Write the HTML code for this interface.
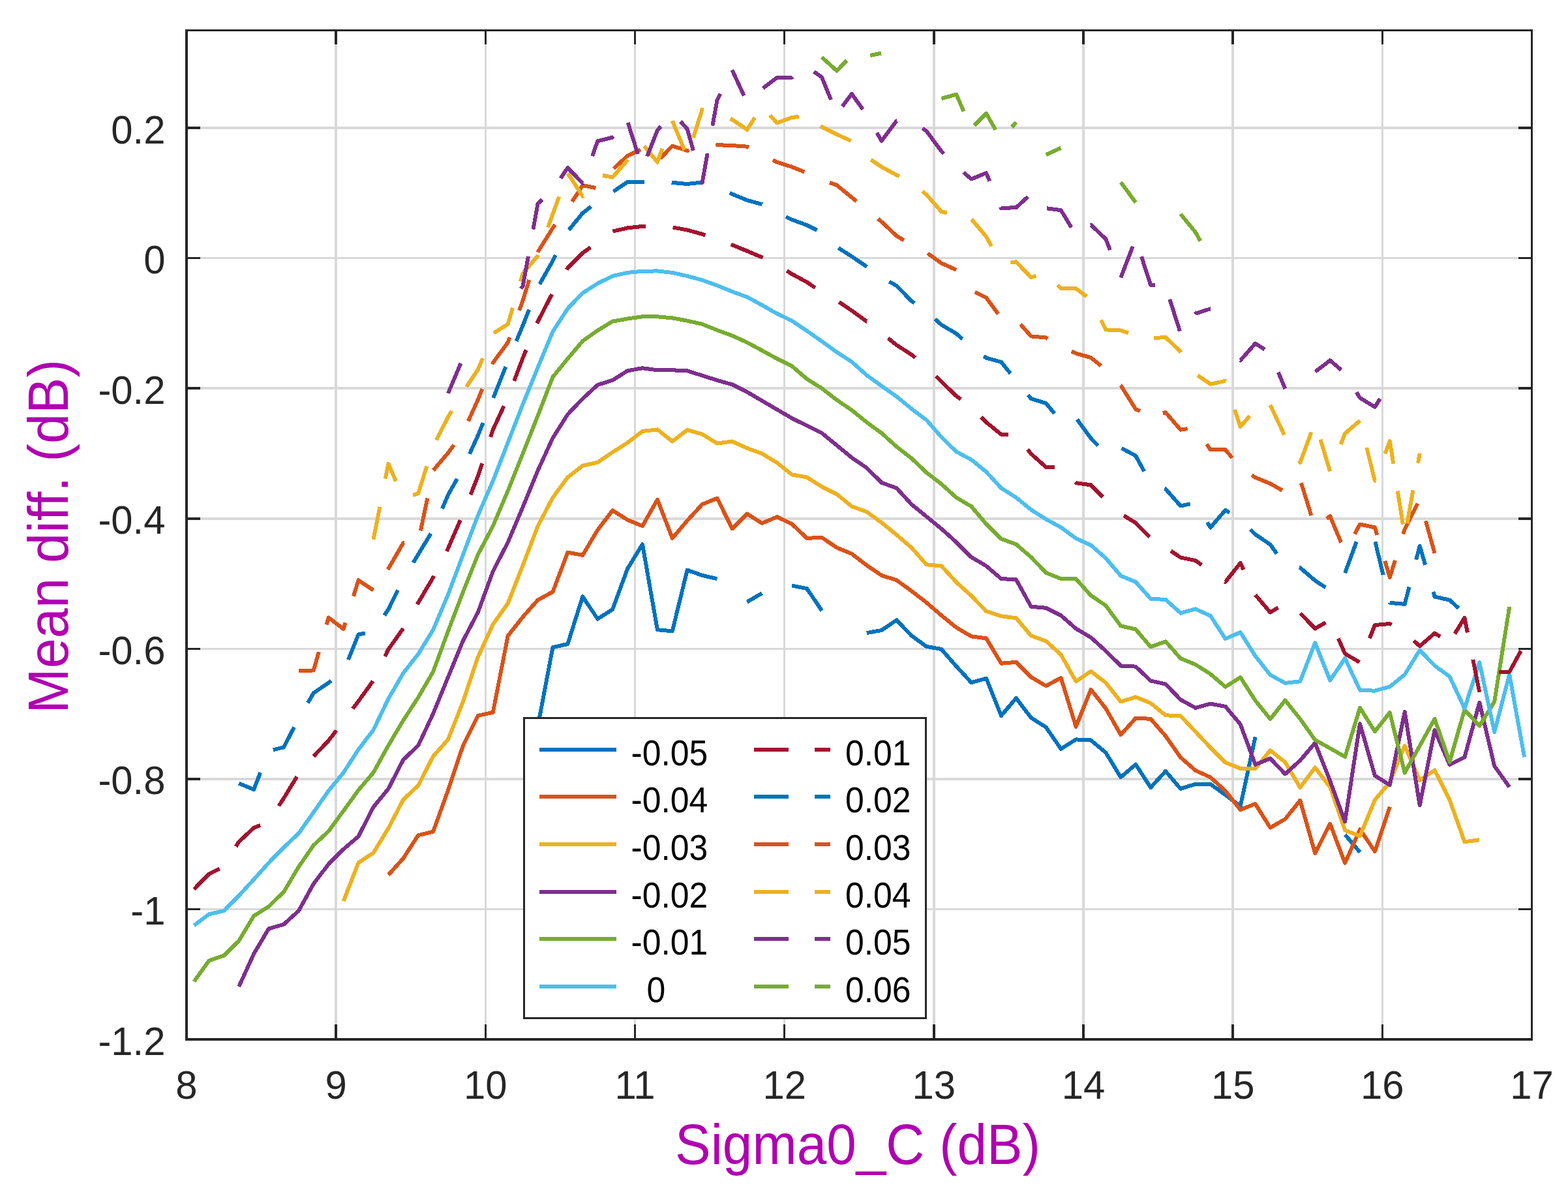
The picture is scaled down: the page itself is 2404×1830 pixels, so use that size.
<!DOCTYPE html><html><head><meta charset="utf-8"><style>html,body{margin:0;padding:0;background:#fff;}svg{display:block;}text{font-family:"Liberation Sans",Arial,Helvetica,sans-serif;}</style></head><body>
<svg width="2404" height="1830" viewBox="0 0 2404 1830">
<rect x="0" y="0" width="2404" height="1830" fill="#fff"/>
<g fill="#d9d9d9"><rect x="513" y="48" width="4" height="1543"/><rect x="743" y="48" width="3" height="1543"/><rect x="972" y="48" width="3" height="1543"/><rect x="1201" y="48" width="3" height="1543"/><rect x="1430" y="48" width="4" height="1543"/><rect x="1659" y="48" width="4" height="1543"/><rect x="1888" y="48" width="4" height="1543"/><rect x="2118" y="48" width="3" height="1543"/><rect x="288" y="1392" width="2059" height="3"/><rect x="288" y="1192" width="2059" height="4"/><rect x="288" y="993" width="2059" height="3"/><rect x="288" y="793" width="2059" height="4"/><rect x="288" y="593" width="2059" height="4"/><rect x="288" y="394" width="2059" height="3"/><rect x="288" y="194" width="2059" height="4"/></g>
<g fill="none" stroke-width="6" stroke-linejoin="round" stroke-linecap="butt" shape-rendering="crispEdges">
<path d="M824.6 1113.1L847.5 992.2L870.4 987.0L893.3 914.3L916.2 948.6L939.1 934.1L962.1 871.6L985.0 834.2L1007.9 965.2L1030.8 967.3L1053.7 873.6L1076.6 881.9L1099.6 887.1" stroke="#0072bd"/>
<path d="M1145.4 922.6L1168.3 909.2" stroke="#0072bd"/>
<path d="M1214.1 897.5L1237.1 902.1L1260.0 935.9" stroke="#0072bd"/>
<path d="M1328.7 970.1L1351.6 966.0L1374.6 950.4L1397.5 974.3L1420.4 990.9L1443.3 995.0L1466.2 1021.2L1489.1 1046.1L1512.1 1039.9L1535.0 1097.0L1557.9 1070.0L1580.8 1100.1L1603.7 1114.6L1626.6 1147.8L1649.6 1133.4L1672.5 1134.5L1695.4 1153.6L1718.3 1191.3L1741.2 1171.6L1764.1 1206.9L1787.1 1182.0L1810.0 1208.9L1832.9 1201.7L1855.8 1201.7L1878.7 1218.3L1901.7 1235.6L1924.6 1129.5" stroke="#0072bd"/>
<path d="M2062.1 1279.2L2085.0 1306.2" stroke="#0072bd"/>
<path d="M595.4 1341.0L618.3 1315.5L641.2 1280.2L664.1 1274.6L687.0 1211.1L710.0 1142.6L732.9 1096.9L755.8 1091.8L778.7 974.5L801.6 945.5L824.6 919.5L847.5 907.1L870.4 846.7L893.3 850.8L916.2 812.4L939.1 782.3L962.1 796.8L985.0 806.2L1007.9 765.7L1030.8 824.9L1053.7 797.9L1076.6 773.0L1099.6 763.6L1122.5 810.3L1145.4 787.5L1168.3 802.0L1191.2 792.2L1214.1 803.1L1237.1 824.9L1260.0 823.8L1282.9 839.4L1305.8 848.7L1328.7 866.4L1351.6 881.9L1374.6 889.2L1397.5 905.8L1420.4 923.5L1443.3 943.2L1466.2 961.8L1489.1 975.3L1512.1 978.4L1535.0 1016.8L1557.9 1014.8L1580.8 1037.8L1603.7 1051.3L1626.6 1038.9L1649.6 1113.7L1672.5 1056.8L1695.4 1085.9L1718.3 1126.2L1741.2 1100.7L1764.1 1101.8L1787.1 1128.2L1810.0 1160.9L1832.9 1180.9L1855.8 1191.3L1878.7 1212.1L1901.7 1241.1L1924.6 1232.0L1947.5 1268.6L1970.4 1255.3L1993.3 1226.8L2016.2 1307.7L2039.2 1262.6L2062.1 1322.8L2085.0 1271.1L2107.9 1304.9L2130.8 1236.4" stroke="#d95319"/>
<path d="M526.6 1381.1L549.5 1322.3L572.5 1307.2L595.4 1269.4L618.3 1225.6L641.2 1203.8L664.1 1159.2L687.0 1133.3L710.0 1075.2L732.9 1006.7L755.8 956.9L778.7 924.7L801.6 866.4L824.6 806.2L847.5 762.6L870.4 731.5L893.3 713.8L916.2 708.7L939.1 693.1L962.1 678.6L985.0 660.9L1007.9 658.4L1030.8 676.5L1053.7 658.9L1076.6 665.5L1099.6 679.6L1122.5 676.5L1145.4 686.9L1168.3 695.2L1191.2 709.2L1214.1 727.4L1237.1 731.5L1260.0 746.0L1282.9 757.4L1305.8 776.1L1328.7 784.4L1351.6 801.0L1374.6 819.7L1397.5 839.4L1420.4 865.3L1443.3 867.4L1466.2 892.3L1489.1 913.1L1512.1 936.9L1535.0 944.2L1557.9 947.3L1580.8 974.3L1603.7 982.6L1626.6 1003.3L1649.6 1044.4L1672.5 1028.8L1695.4 1046.5L1718.3 1075.5L1741.2 1068.3L1764.1 1077.6L1787.1 1096.3L1810.0 1097.3L1832.9 1121.5L1855.8 1145.9L1878.7 1168.7L1901.7 1177.8L1924.6 1178.0L1947.5 1150.1L1970.4 1168.2L1993.3 1207.1L2016.2 1176.5L2039.2 1206.3L2062.1 1272.5L2085.0 1281.3L2107.9 1226.0L2130.8 1199.0L2153.7 1143.0L2176.7 1195.9L2199.6 1180.4L2222.5 1226.0L2245.4 1290.3L2268.3 1287.2" stroke="#edb120"/>
<path d="M366.2 1512.2L389.1 1462.0L412.0 1423.4L435.0 1416.8L457.9 1396.0L480.8 1354.5L503.7 1324.4L526.6 1301.6L549.5 1281.9L572.5 1236.9L595.4 1209.0L618.3 1164.4L641.2 1142.6L664.1 1093.8L687.0 1037.8L710.0 981.8L732.9 938.2L755.8 875.7L778.7 831.1L801.6 777.1L824.6 721.1L847.5 671.3L870.4 635.0L893.3 611.1L916.2 590.0L939.1 582.8L962.1 568.3L985.0 564.2L1007.9 567.3L1030.8 567.3L1053.7 568.3L1076.6 575.6L1099.6 582.9L1122.5 589.3L1145.4 600.8L1168.3 614.2L1191.2 627.6L1214.1 641.0L1237.1 652.4L1260.0 663.8L1282.9 682.5L1305.8 701.4L1328.7 717.0L1351.6 739.8L1374.6 748.1L1397.5 773.0L1420.4 791.7L1443.3 810.4L1466.2 831.1L1489.1 853.9L1512.1 867.4L1535.0 887.1L1557.9 888.2L1580.8 929.7L1603.7 931.8L1626.6 943.2L1649.6 963.5L1672.5 977.0L1695.4 997.7L1718.3 1020.5L1741.2 1021.6L1764.1 1043.4L1787.1 1048.5L1810.0 1072.4L1832.9 1084.9L1855.8 1078.6L1878.7 1082.8L1901.7 1110.1L1924.6 1171.8L1947.5 1162.5L1970.4 1186.3L1993.3 1165.6L2016.2 1138.7L2039.2 1196.7L2062.1 1259.5L2085.0 1109.3L2107.9 1188.7L2130.8 1203.2L2153.7 1091.1L2176.7 1234.3L2199.6 1119.1L2222.5 1172.1L2245.4 1160.6L2268.3 1076.6L2291.2 1174.1L2314.2 1206.3" stroke="#7e2f8e"/>
<path d="M297.5 1504.3L320.4 1472.4L343.3 1464.5L366.2 1442.1L389.1 1403.9L412.0 1389.4L435.0 1367.0L457.9 1328.6L480.8 1295.4L503.7 1274.0L526.6 1242.9L549.5 1211.1L572.5 1184.1L595.4 1142.6L618.3 1104.2L641.2 1068.9L664.1 1029.5L687.0 967.3L710.0 907.1L732.9 849.8L755.8 806.2L778.7 752.2L801.6 695.2L824.6 637.1L847.5 577.8L870.4 549.7L893.3 522.7L916.2 506.5L939.1 492.6L962.1 488.5L985.0 485.3L1007.9 485.3L1030.8 487.4L1053.7 491.6L1076.6 496.8L1099.6 506.1L1122.5 514.4L1145.4 524.8L1168.3 537.2L1191.2 549.7L1214.1 561.1L1237.1 580.8L1260.0 595.3L1282.9 613.0L1305.8 628.5L1328.7 647.2L1351.6 663.8L1374.6 684.6L1397.5 702.5L1420.4 724.2L1443.3 741.9L1466.2 762.6L1489.1 776.1L1512.1 803.1L1535.0 825.9L1557.9 834.2L1580.8 853.9L1603.7 877.8L1626.6 887.1L1649.6 887.3L1672.5 912.6L1695.4 928.2L1718.3 959.3L1741.2 964.5L1764.1 991.5L1787.1 983.2L1810.0 1009.1L1832.9 1018.5L1855.8 1033.0L1878.7 1052.7L1901.7 1038.1L1924.6 1073.7L1947.5 1102.1L1970.4 1073.4L1993.3 1101.8L2016.2 1134.1L2039.2 1146.8L2062.1 1159.9L2085.0 1084.8L2107.9 1121.1L2130.8 1092.1L2153.7 1184.5L2176.7 1143.0L2199.6 1101.7L2222.5 1167.8L2245.4 1087.9L2268.3 1112.5L2291.2 1075.5L2314.2 930.1" stroke="#77ac30"/>
<path d="M297.5 1418.4L320.4 1401.2L343.3 1396.0L366.2 1372.8L389.1 1347.9L412.0 1322.3L435.0 1298.9L457.9 1277.3L480.8 1244.9L503.7 1212.1L526.6 1184.1L549.5 1148.8L572.5 1118.7L595.4 1071.0L618.3 1031.6L641.2 1002.5L664.1 965.2L687.0 911.2L710.0 849.8L732.9 789.6L755.8 737.1L778.7 678.2L801.6 619.6L824.6 563.2L847.5 508.2L870.4 472.9L893.3 449.0L916.2 434.5L939.1 423.1L962.1 417.9L985.0 415.8L1007.9 415.4L1030.8 417.9L1053.7 423.1L1076.6 429.3L1099.6 437.6L1122.5 446.9L1145.4 455.2L1168.3 467.7L1191.2 480.7L1214.1 491.6L1237.1 507.1L1260.0 523.1L1282.9 539.7L1305.8 554.5L1328.7 575.0L1351.6 591.6L1374.6 607.8L1397.5 626.5L1420.4 643.7L1443.3 670.0L1466.2 692.3L1489.1 704.5L1512.1 723.2L1535.0 748.1L1557.9 762.6L1580.8 781.3L1603.7 795.8L1626.6 808.3L1649.6 825.2L1672.5 835.6L1695.4 855.6L1718.3 882.5L1741.2 891.9L1764.1 917.8L1787.1 918.9L1810.0 939.6L1832.9 933.4L1855.8 943.8L1878.7 979.0L1901.7 969.1L1924.6 1005.4L1947.5 1034.4L1970.4 1046.9L1993.3 1044.3L2016.2 985.2L2039.2 1042.7L2062.1 1009.0L2085.0 1057.8L2107.9 1058.7L2130.8 1052.5L2153.7 1033.8L2176.7 996.5L2199.6 1020.3L2222.5 1036.9L2245.4 1085.7L2268.3 1015.2L2291.2 1122.0L2314.2 1033.8L2337.1 1160.4" stroke="#4dbeee"/>
<path d="M297.5 1362.8L320.4 1339.6L336.7 1331.3" stroke="#a2142f"/>
<path d="M361.8 1297.5L366.2 1290.2L389.1 1268.8L399.1 1264.8" stroke="#a2142f"/>
<path d="M427.5 1235.2L435.0 1223.5L455.2 1190.4" stroke="#a2142f"/>
<path d="M480.9 1159.1L503.7 1135.1L515.7 1119.5" stroke="#a2142f"/>
<path d="M540.9 1086.3L549.5 1074.7L571.8 1043.9" stroke="#a2142f"/>
<path d="M590.1 1006.2L595.4 995.3L618.2 963.2" stroke="#a2142f"/>
<path d="M639.7 926.3L641.2 923.7L664.1 885.0L665.3 882.7" stroke="#a2142f"/>
<path d="M684.8 844.8L687.0 840.4L705.8 797.1" stroke="#a2142f"/>
<path d="M721.5 758.2L732.9 729.4L739.1 710.3" stroke="#a2142f"/>
<path d="M752.2 669.8L755.8 658.6L772.6 622.2" stroke="#a2142f"/>
<path d="M788.2 584.0L801.6 548.6L806.7 536.2" stroke="#a2142f"/>
<path d="M823.3 495.8L824.6 492.8L846.1 451.1" stroke="#a2142f"/>
<path d="M868.8 413.3L870.4 410.6L893.3 387.8L905.3 379.1" stroke="#a2142f"/>
<path d="M939.4 354.6L962.1 349.4L985.0 346.9L990.2 346.9" stroke="#a2142f"/>
<path d="M1031.7 348.5L1053.7 352.5L1076.6 358.8L1081.3 360.4" stroke="#a2142f"/>
<path d="M1120.8 374.7L1122.5 375.4L1145.4 384.7L1168.3 394.4L1169.7 395.1" stroke="#a2142f"/>
<path d="M1206.3 415.0L1214.1 420.0L1237.1 432.4L1250.0 441.2" stroke="#a2142f"/>
<path d="M1286.4 462.9L1305.8 476.0L1328.7 492.6L1328.8 492.6" stroke="#a2142f"/>
<path d="M1361.5 518.3L1374.6 528.9L1397.5 543.5L1403.2 548.2" stroke="#a2142f"/>
<path d="M1435.0 576.7L1443.3 585.0L1466.2 607.0L1473.0 612.1" stroke="#a2142f"/>
<path d="M1504.1 639.3L1512.1 647.2L1535.0 665.9L1546.0 665.9" stroke="#a2142f"/>
<path d="M1575.6 688.8L1580.8 695.6L1603.7 715.9L1616.6 716.1" stroke="#a2142f"/>
<path d="M1648.5 739.1L1649.6 740.2L1672.5 743.3L1691.0 761.9" stroke="#a2142f"/>
<path d="M1723.0 790.2L1741.2 801.4L1762.6 823.2" stroke="#a2142f"/>
<path d="M1795.1 844.3L1810.0 854.5L1832.9 859.1L1842.4 866.0" stroke="#a2142f"/>
<path d="M1877.9 891.3L1878.7 891.9L1901.7 862.8L1906.6 873.3" stroke="#a2142f"/>
<path d="M1924.6 911.6L1947.5 938.6L1959.7 931.3" stroke="#a2142f"/>
<path d="M1993.6 939.9L2016.2 963.5L2032.3 954.1" stroke="#a2142f"/>
<path d="M2051.8 978.7L2062.1 1001.9L2084.4 1015.0" stroke="#a2142f"/>
<path d="M2099.8 978.4L2107.9 958.1L2130.8 956.0L2133.5 957.6" stroke="#a2142f"/>
<path d="M2167.5 982.0L2176.7 990.3L2199.6 970.5L2208.1 975.7" stroke="#a2142f"/>
<path d="M2230.5 971.3L2245.4 946.7L2250.0 969.6" stroke="#a2142f"/>
<path d="M2258.3 1010.9L2268.3 1060.8L2268.3 1060.8" stroke="#a2142f"/>
<path d="M2298.4 1029.7L2314.2 1029.7L2331.8 997.6" stroke="#a2142f"/>
<path d="M366.2 1200.7L389.1 1210.0L399.2 1184.1" stroke="#0072bd"/>
<path d="M418.8 1149.3L435.0 1145.3L450.9 1114.6" stroke="#0072bd"/>
<path d="M471.9 1077.3L480.8 1062.1L503.7 1046.5L507.9 1043.4" stroke="#0072bd"/>
<path d="M534.0 1011.2L549.5 972.4L560.0 970.6" stroke="#0072bd"/>
<path d="M589.2 943.2L595.4 934.1L610.0 904.6" stroke="#0072bd"/>
<path d="M633.7 862.3L641.2 849.8L660.6 817.6" stroke="#0072bd"/>
<path d="M678.0 779.6L687.0 758.5L700.8 734.0" stroke="#0072bd"/>
<path d="M719.9 695.7L732.9 667.2L740.7 648.1" stroke="#0072bd"/>
<path d="M756.3 609.9L775.4 562.1" stroke="#0072bd"/>
<path d="M791.6 522.9L801.6 498.8L811.1 474.7" stroke="#0072bd"/>
<path d="M827.3 435.5L847.5 399.8L852.0 390.8" stroke="#0072bd"/>
<path d="M872.0 352.6L893.3 326.6L906.2 316.6" stroke="#0072bd"/>
<path d="M940.5 293.5L962.1 278.9L985.0 278.9L988.1 278.9" stroke="#0072bd"/>
<path d="M1029.6 279.8L1030.8 279.9L1053.7 282.0L1076.6 279.5L1078.1 279.9" stroke="#0072bd"/>
<path d="M1118.7 295.7L1122.5 297.5L1145.4 306.9L1168.3 313.1L1168.6 313.3" stroke="#0072bd"/>
<path d="M1204.9 332.1L1214.1 336.7L1237.1 345.0L1252.7 352.8" stroke="#0072bd"/>
<path d="M1285.3 380.0L1305.8 393.0L1328.7 408.6L1329.0 408.8" stroke="#0072bd"/>
<path d="M1363.3 431.7L1374.6 438.0L1397.5 461.5L1402.1 464.6" stroke="#0072bd"/>
<path d="M1433.6 489.0L1443.3 497.8L1466.2 511.3L1475.5 519.6" stroke="#0072bd"/>
<path d="M1508.2 545.8L1512.1 548.6L1535.0 554.9L1549.2 572.5" stroke="#0072bd"/>
<path d="M1576.3 605.5L1580.8 610.9L1603.7 618.2L1616.6 633.7" stroke="#0072bd"/>
<path d="M1651.3 642.8L1672.5 671.7L1683.7 683.1" stroke="#0072bd"/>
<path d="M1719.6 686.9L1741.2 698.6L1754.2 722.5" stroke="#0072bd"/>
<path d="M1785.3 748.8L1787.1 749.5L1810.0 775.4L1824.8 772.3" stroke="#0072bd"/>
<path d="M1851.0 800.6L1855.8 808.6L1878.7 781.7L1885.0 785.8" stroke="#0072bd"/>
<path d="M1917.1 811.8L1924.6 819.0L1947.5 834.6L1957.5 848.6" stroke="#0072bd"/>
<path d="M1991.8 869.8L1993.3 870.1L2016.2 889.8L2032.3 900.3" stroke="#0072bd"/>
<path d="M2062.1 878.3L2079.7 830.3" stroke="#0072bd"/>
<path d="M2108.4 830.1L2120.6 881.2" stroke="#0072bd"/>
<path d="M2130.7 923.5L2130.8 923.9L2153.7 925.9L2160.5 899.7" stroke="#0072bd"/>
<path d="M2171.2 857.8L2176.7 836.7L2185.2 865.8" stroke="#0072bd"/>
<path d="M2197.4 907.1L2199.6 914.5L2222.5 919.7L2236.2 932.1" stroke="#0072bd"/>
<path d="M458.2 1028.5L480.8 1027.4L488.8 999.3" stroke="#d95319"/>
<path d="M500.6 957.4L503.7 946.5L526.6 964.1L529.6 954.4" stroke="#d95319"/>
<path d="M542.0 913.9L549.5 889.2L572.4 904.7" stroke="#d95319"/>
<path d="M594.5 872.8L595.4 871.6L618.3 832.1L620.1 832.0" stroke="#d95319"/>
<path d="M644.9 813.4L655.3 763.6" stroke="#d95319"/>
<path d="M664.4 720.8L687.0 694.1L696.0 682.0" stroke="#d95319"/>
<path d="M717.9 645.5L732.9 612.2L739.4 596.2" stroke="#d95319"/>
<path d="M754.8 558.4L755.8 555.9L778.7 524.8L781.5 517.1" stroke="#d95319"/>
<path d="M796.1 476.0L801.6 460.4L811.4 428.9" stroke="#d95319"/>
<path d="M824.3 386.8L824.6 386.1L847.5 349.4L851.3 344.4" stroke="#d95319"/>
<path d="M877.1 309.0L893.3 284.1L913.4 288.1" stroke="#d95319"/>
<path d="M940.8 258.4L962.1 238.8L982.1 229.2" stroke="#d95319"/>
<path d="M1012.4 242.8L1030.8 223.6L1053.7 230.9L1056.5 230.4" stroke="#d95319"/>
<path d="M1097.3 222.6L1099.6 222.2L1122.5 223.0L1145.4 224.7L1148.1 226.2" stroke="#d95319"/>
<path d="M1184.8 245.3L1191.2 248.5L1214.1 255.8L1233.3 263.6" stroke="#d95319"/>
<path d="M1272.0 279.9L1282.9 283.8L1305.8 302.5L1313.2 308.5" stroke="#d95319"/>
<path d="M1346.1 335.3L1351.6 339.9L1374.6 361.6L1385.9 368.4" stroke="#d95319"/>
<path d="M1422.3 388.2L1443.3 403.4L1466.2 413.7" stroke="#d95319"/>
<path d="M1494.8 447.7L1512.1 456.3L1530.4 481.2" stroke="#d95319"/>
<path d="M1564.5 497.0L1580.8 515.4L1603.7 517.5L1606.3 519.1" stroke="#d95319"/>
<path d="M1642.8 538.5L1649.6 541.6L1672.5 548.2L1687.9 560.6" stroke="#d95319"/>
<path d="M1718.1 590.6L1718.3 590.7L1741.2 627.1L1748.1 630.2" stroke="#d95319"/>
<path d="M1782.8 633.2L1787.1 632.2L1810.0 658.6L1820.7 657.1" stroke="#d95319"/>
<path d="M1850.0 680.8L1855.8 689.3L1878.7 689.3L1889.2 701.8" stroke="#d95319"/>
<path d="M1919.2 728.3L1924.6 731.8L1947.5 741.2L1965.9 751.6" stroke="#d95319"/>
<path d="M1994.9 740.2L2010.4 790.0" stroke="#d95319"/>
<path d="M2034.0 794.9L2039.2 791.0L2056.1 831.5" stroke="#d95319"/>
<path d="M2076.9 818.5L2085.0 803.5L2107.9 808.4L2111.3 819.9" stroke="#d95319"/>
<path d="M2123.3 859.8L2130.8 885.0L2138.9 858.9" stroke="#d95319"/>
<path d="M2151.3 818.7L2153.7 811.0L2173.3 771.7" stroke="#d95319"/>
<path d="M2185.8 798.3L2199.6 848.0" stroke="#d95319"/>
<path d="M572.5 826.9L582.3 777.0" stroke="#edb120"/>
<path d="M590.8 733.7L595.4 710.7L607.0 737.5" stroke="#edb120"/>
<path d="M633.0 759.0L641.2 756.4L654.4 714.6" stroke="#edb120"/>
<path d="M668.9 674.4L687.0 639.1L692.6 629.8" stroke="#edb120"/>
<path d="M715.2 592.9L732.9 566.3L740.0 549.2" stroke="#edb120"/>
<path d="M756.9 510.5L778.7 496.8L786.0 471.9" stroke="#edb120"/>
<path d="M797.9 431.6L801.6 418.9L824.6 392.0L825.0 390.8" stroke="#edb120"/>
<path d="M840.1 348.5L847.5 328.0L857.1 301.6" stroke="#edb120"/>
<path d="M870.5 265.6L893.3 300.7L893.6 300.2" stroke="#edb120"/>
<path d="M923.9 268.8L939.1 271.6L962.1 245.4L962.6 244.8" stroke="#edb120"/>
<path d="M987.8 223.9L1007.9 248.5L1015.5 227.6" stroke="#edb120"/>
<path d="M1030.8 185.3L1030.8 185.3L1049.4 229.9" stroke="#edb120"/>
<path d="M1062.9 211.2L1076.6 167.6L1078.8 168.1" stroke="#edb120"/>
<path d="M1119.6 181.9L1122.5 183.2L1145.4 198.7L1157.3 180.1" stroke="#edb120"/>
<path d="M1180.5 176.6L1191.2 188.4L1214.1 180.1L1224.8 178.6" stroke="#edb120"/>
<path d="M1258.0 193.1L1260.0 194.6L1282.9 206.0L1304.5 215.8" stroke="#edb120"/>
<path d="M1335.2 244.7L1351.6 255.8L1374.6 268.3L1379.0 270.3" stroke="#edb120"/>
<path d="M1414.3 293.1L1420.4 298.4L1443.3 324.3L1451.9 326.2" stroke="#edb120"/>
<path d="M1489.5 336.1L1512.1 362.7L1520.1 377.4" stroke="#edb120"/>
<path d="M1549.3 402.6L1557.9 401.3L1580.8 425.2L1588.5 422.8" stroke="#edb120"/>
<path d="M1621.5 436.7L1626.6 442.2L1649.6 442.1L1666.1 454.6" stroke="#edb120"/>
<path d="M1687.9 490.4L1695.4 505.4L1718.3 506.5L1730.1 510.3" stroke="#edb120"/>
<path d="M1768.8 517.9L1787.1 517.1L1810.0 538.9L1810.9 540.2" stroke="#edb120"/>
<path d="M1836.2 575.3L1855.8 588.7L1878.7 583.9L1878.8 584.1" stroke="#edb120"/>
<path d="M1893.1 627.8L1901.7 654.0L1916.1 637.4" stroke="#edb120"/>
<path d="M1947.5 620.8L1969.0 666.5" stroke="#edb120"/>
<path d="M1991.6 706.1L1993.3 709.0L2010.5 662.3" stroke="#edb120"/>
<path d="M2024.4 673.6L2039.2 722.5L2039.2 722.5" stroke="#edb120"/>
<path d="M2055.5 681.1L2062.1 664.4L2085.0 644.6" stroke="#edb120"/>
<path d="M2095.3 686.0L2107.9 736.8L2108.0 736.6" stroke="#edb120"/>
<path d="M2123.6 695.2L2130.8 676.0L2136.3 710.8" stroke="#edb120"/>
<path d="M2142.8 752.6L2150.8 803.5" stroke="#edb120"/>
<path d="M2157.3 802.4L2166.5 751.2" stroke="#edb120"/>
<path d="M2174.0 709.7L2176.7 694.9" stroke="#edb120"/>
<path d="M687.0 602.8L706.4 557.0" stroke="#7e2f8e"/>
<path d="M798.5 442.4L801.6 438.6L809.9 392.9" stroke="#7e2f8e"/>
<path d="M817.4 351.6L824.6 312.1L831.4 305.9" stroke="#7e2f8e"/>
<path d="M859.5 273.4L870.4 257.1L893.3 280.9L893.5 280.5" stroke="#7e2f8e"/>
<path d="M908.1 239.2L916.2 216.4L939.1 210.6L940.4 209.2" stroke="#7e2f8e"/>
<path d="M962.6 187.9L978.0 236.0" stroke="#7e2f8e"/>
<path d="M992.2 239.6L1007.9 199.8L1013.1 193.6" stroke="#7e2f8e"/>
<path d="M1043.3 186.2L1053.7 197.7L1063.0 230.9" stroke="#7e2f8e"/>
<path d="M1076.6 279.8L1076.6 279.9L1084.7 235.1" stroke="#7e2f8e"/>
<path d="M1092.4 192.8L1099.6 153.1L1104.3 143.7" stroke="#7e2f8e"/>
<path d="M1122.5 107.4L1140.7 146.8" stroke="#7e2f8e"/>
<path d="M1169.7 135.4L1191.2 119.1L1214.1 118.9L1215.4 117.9" stroke="#7e2f8e"/>
<path d="M1247.9 109.9L1260.0 118.4L1273.9 152.8" stroke="#7e2f8e"/>
<path d="M1291.5 163.2L1305.8 143.8L1322.9 167.6" stroke="#7e2f8e"/>
<path d="M1344.5 203.5L1351.6 216.0L1374.6 185.3L1374.8 185.3" stroke="#7e2f8e"/>
<path d="M1414.3 196.7L1420.4 200.8L1443.3 231.9L1447.0 235.6" stroke="#7e2f8e"/>
<path d="M1477.4 264.3L1489.1 274.5L1512.1 265.2L1517.3 277.5" stroke="#7e2f8e"/>
<path d="M1534.2 317.3L1535.0 319.1L1557.9 318.1L1576.1 301.4" stroke="#7e2f8e"/>
<path d="M1605.1 319.3L1626.6 322.2L1642.6 348.6" stroke="#7e2f8e"/>
<path d="M1672.1 344.8L1672.5 344.6L1695.4 366.4L1701.9 383.2" stroke="#7e2f8e"/>
<path d="M1718.3 425.5L1736.7 377.8" stroke="#7e2f8e"/>
<path d="M1750.0 393.1L1764.1 436.9L1770.8 437.5" stroke="#7e2f8e"/>
<path d="M1793.4 458.8L1809.0 507.6" stroke="#7e2f8e"/>
<path d="M1832.2 481.4L1832.9 480.5L1855.8 473.3L1855.9 473.3" stroke="#7e2f8e"/>
<path d="M1901.6 552.3L1901.7 552.4L1924.6 526.4L1938.9 535.5" stroke="#7e2f8e"/>
<path d="M1959.8 570.6L1970.4 595.9" stroke="#7e2f8e"/>
<path d="M2016.6 569.7L2039.2 552.4L2056.2 566.9" stroke="#7e2f8e"/>
<path d="M2079.7 601.1L2085.0 609.8L2107.9 623.8L2115.8 611.3" stroke="#7e2f8e"/>
<path d="M1260.0 87.7L1282.9 108.5L1298.1 92.9" stroke="#77ac30"/>
<path d="M1334.2 85.0L1351.0 81.6" stroke="#77ac30"/>
<path d="M1443.3 151.0L1466.2 144.8L1477.6 170.7" stroke="#77ac30"/>
<path d="M1493.9 192.3L1512.1 173.8L1526.3 198.8" stroke="#77ac30"/>
<path d="M1551.5 194.8L1557.9 187.4" stroke="#77ac30"/>
<path d="M1603.7 237.1L1603.7 237.1L1626.6 226.8" stroke="#77ac30"/>
<path d="M1718.3 279.3L1741.2 310.3" stroke="#77ac30"/>
<path d="M1810.0 328.1L1832.9 356.0L1840.4 369.5" stroke="#77ac30"/>
</g>
<g fill="#262626"><rect x="513" y="1570" width="4" height="21"/><rect x="513" y="48" width="4" height="20"/><rect x="743" y="1570" width="3" height="21"/><rect x="743" y="48" width="3" height="20"/><rect x="972" y="1570" width="3" height="21"/><rect x="972" y="48" width="3" height="20"/><rect x="1201" y="1570" width="3" height="21"/><rect x="1201" y="48" width="3" height="20"/><rect x="1430" y="1570" width="4" height="21"/><rect x="1430" y="48" width="4" height="20"/><rect x="1659" y="1570" width="4" height="21"/><rect x="1659" y="48" width="4" height="20"/><rect x="1888" y="1570" width="4" height="21"/><rect x="1888" y="48" width="4" height="20"/><rect x="2118" y="1570" width="3" height="21"/><rect x="2118" y="48" width="3" height="20"/><rect x="288" y="1392" width="19" height="3"/><rect x="2328" y="1392" width="19" height="3"/><rect x="288" y="1192" width="19" height="4"/><rect x="2328" y="1192" width="19" height="4"/><rect x="288" y="993" width="19" height="3"/><rect x="2328" y="993" width="19" height="3"/><rect x="288" y="793" width="19" height="4"/><rect x="2328" y="793" width="19" height="4"/><rect x="288" y="593" width="19" height="4"/><rect x="2328" y="593" width="19" height="4"/><rect x="288" y="394" width="19" height="3"/><rect x="2328" y="394" width="19" height="3"/><rect x="288" y="194" width="19" height="4"/><rect x="2328" y="194" width="19" height="4"/><rect x="284" y="45" width="4" height="1550"/><rect x="2347" y="45" width="3" height="1550"/><rect x="284" y="45" width="2066" height="3"/><rect x="284" y="1591" width="2066" height="4"/></g>
<text transform="translate(286.0 1684) scale(0.965 1)" font-size="62" fill="#262626" text-anchor="middle">8</text>
<text transform="translate(515.2 1684) scale(0.965 1)" font-size="62" fill="#262626" text-anchor="middle">9</text>
<text transform="translate(744.3 1684) scale(0.965 1)" font-size="62" fill="#262626" text-anchor="middle">10</text>
<text transform="translate(973.5 1684) scale(0.965 1)" font-size="62" fill="#262626" text-anchor="middle">11</text>
<text transform="translate(1202.7 1684) scale(0.965 1)" font-size="62" fill="#262626" text-anchor="middle">12</text>
<text transform="translate(1431.8 1684) scale(0.965 1)" font-size="62" fill="#262626" text-anchor="middle">13</text>
<text transform="translate(1661.0 1684) scale(0.965 1)" font-size="62" fill="#262626" text-anchor="middle">14</text>
<text transform="translate(1890.2 1684) scale(0.965 1)" font-size="62" fill="#262626" text-anchor="middle">15</text>
<text transform="translate(2119.3 1684) scale(0.965 1)" font-size="62" fill="#262626" text-anchor="middle">16</text>
<text transform="translate(2348.5 1684) scale(0.965 1)" font-size="62" fill="#262626" text-anchor="middle">17</text>
<text transform="translate(253.5 1616.6) scale(0.965 1)" font-size="62" fill="#262626" text-anchor="end">-1.2</text>
<text transform="translate(253.5 1417.0) scale(0.965 1)" font-size="62" fill="#262626" text-anchor="end">-1</text>
<text transform="translate(253.5 1217.4) scale(0.965 1)" font-size="62" fill="#262626" text-anchor="end">-0.8</text>
<text transform="translate(253.5 1017.8) scale(0.965 1)" font-size="62" fill="#262626" text-anchor="end">-0.6</text>
<text transform="translate(253.5 818.3) scale(0.965 1)" font-size="62" fill="#262626" text-anchor="end">-0.4</text>
<text transform="translate(253.5 618.7) scale(0.965 1)" font-size="62" fill="#262626" text-anchor="end">-0.2</text>
<text transform="translate(253.5 419.1) scale(0.965 1)" font-size="62" fill="#262626" text-anchor="end">0</text>
<text transform="translate(253.5 219.5) scale(0.965 1)" font-size="62" fill="#262626" text-anchor="end">0.2</text>
<text x="1315" y="1784.3" font-size="87" fill="#b000b0" text-anchor="middle" textLength="560" lengthAdjust="spacingAndGlyphs">Sigma0_C (dB)</text>
<text transform="translate(104 822.2) rotate(-90)" x="0" y="0" font-size="87" fill="#b000b0" text-anchor="middle" textLength="542.5" lengthAdjust="spacingAndGlyphs">Mean diff. (dB)</text>
<rect x="802" y="1099" width="619" height="463" fill="#fff"/>
<g fill="#262626"><rect x="802" y="1099" width="619" height="3"/><rect x="802" y="1559" width="619" height="3"/><rect x="802" y="1099" width="3" height="463"/><rect x="1418" y="1099" width="3" height="463"/></g>
<rect x="827" y="1146" width="118" height="6" fill="#0072bd"/>
<text transform="translate(967.5 1172.8) scale(0.94 1)" font-size="55" fill="#000">-0.05</text>
<rect x="1156" y="1146" width="53" height="6" fill="#a2142f"/><rect x="1249" y="1146" width="24" height="6" fill="#a2142f"/>
<text transform="translate(1296 1172.8) scale(0.94 1)" font-size="55" fill="#000">0.01</text>
<rect x="827" y="1218" width="118" height="6" fill="#d95319"/>
<text transform="translate(967.5 1244.5) scale(0.94 1)" font-size="55" fill="#000">-0.04</text>
<rect x="1156" y="1218" width="53" height="6" fill="#0072bd"/><rect x="1249" y="1218" width="24" height="6" fill="#0072bd"/>
<text transform="translate(1296 1244.5) scale(0.94 1)" font-size="55" fill="#000">0.02</text>
<rect x="827" y="1291" width="118" height="6" fill="#edb120"/>
<text transform="translate(967.5 1317.8) scale(0.94 1)" font-size="55" fill="#000">-0.03</text>
<rect x="1156" y="1291" width="53" height="6" fill="#d95319"/><rect x="1249" y="1291" width="24" height="6" fill="#d95319"/>
<text transform="translate(1296 1317.8) scale(0.94 1)" font-size="55" fill="#000">0.03</text>
<rect x="827" y="1364" width="118" height="6" fill="#7e2f8e"/>
<text transform="translate(967.5 1390.5) scale(0.94 1)" font-size="55" fill="#000">-0.02</text>
<rect x="1156" y="1364" width="53" height="6" fill="#edb120"/><rect x="1249" y="1364" width="24" height="6" fill="#edb120"/>
<text transform="translate(1296 1390.5) scale(0.94 1)" font-size="55" fill="#000">0.04</text>
<rect x="827" y="1436" width="118" height="6" fill="#77ac30"/>
<text transform="translate(967.5 1462.8) scale(0.94 1)" font-size="55" fill="#000">-0.01</text>
<rect x="1156" y="1436" width="53" height="6" fill="#7e2f8e"/><rect x="1249" y="1436" width="24" height="6" fill="#7e2f8e"/>
<text transform="translate(1296 1462.8) scale(0.94 1)" font-size="55" fill="#000">0.05</text>
<rect x="827" y="1509" width="118" height="6" fill="#4dbeee"/>
<text transform="translate(991.5 1536.4) scale(0.94 1)" font-size="55" fill="#000">0</text>
<rect x="1156" y="1509" width="53" height="6" fill="#77ac30"/><rect x="1249" y="1509" width="24" height="6" fill="#77ac30"/>
<text transform="translate(1296 1536.4) scale(0.94 1)" font-size="55" fill="#000">0.06</text>
</svg></body></html>
